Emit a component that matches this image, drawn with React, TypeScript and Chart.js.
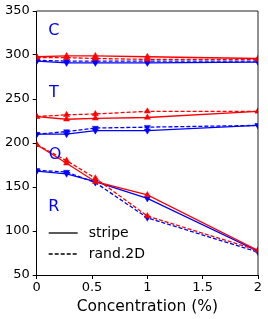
import React, { useEffect, useRef } from "react";
import { Chart, registerables } from "chart.js";
Chart.register(...registerables);

// x positions (concentration %)
const concentrations = [0, 0.27, 0.53, 1, 2];

// C group
const cRedStripe = [298, 299, 299, 298, 296];
const cRedRand = [297, 297, 296, 295, 295];
const cBlueStripe = [293, 291, 291, 291, 292];
const cBlueRand = [294, 293, 293, 293, 293];
// T group
const tRedStripe = [230, 227, 228, 229, 236];
const tRedRand = [230, 232, 233, 236, 236];
const tBlueStripe = [210, 210, 214, 214, 220];
const tBlueRand = [210, 213, 217, 218, 220];
// O / R group
const oRedStripe = [198, 177, 156, 141, 78];
const oRedRand = [198, 180, 160, 117, 78];
const rBlueStripe = [168, 165, 156, 137, 77];
const rBlueRand = [169, 167, 155, 115, 76];

const yTicks = [50, 100, 150, 200, 250, 300, 350];
const xTicks = [0, 0.5, 1, 1.5, 2];
const xTickLabels = ["0", "0.5", "1", "1.5", "2"];

const groupLabels = ["C", "T", "O", "R"];
const groupLabelX = [0.155, 0.155, 0.165, 0.155];
const groupLabelY = [327, 257, 187, 127];

const legendLabels = ["stripe", "rand.2D"];
const xTitle = "Concentration (%)";

const RED = "#ff0000";
const BLUE = "#0000ff";
const FONT = "'DejaVu Sans', sans-serif";

type S = { values: number[]; color: string; dashed: boolean };
const series: S[] = [
  { values: cRedStripe, color: RED, dashed: false },
  { values: cRedRand, color: RED, dashed: true },
  { values: cBlueStripe, color: BLUE, dashed: false },
  { values: cBlueRand, color: BLUE, dashed: true },
  { values: tRedStripe, color: RED, dashed: false },
  { values: tRedRand, color: RED, dashed: true },
  { values: tBlueStripe, color: BLUE, dashed: false },
  { values: tBlueRand, color: BLUE, dashed: true },
  { values: oRedStripe, color: RED, dashed: false },
  { values: oRedRand, color: RED, dashed: true },
  { values: rBlueStripe, color: BLUE, dashed: false },
  { values: rBlueRand, color: BLUE, dashed: true },
];

const overlayPlugin = {
  id: "overlay",
  afterDatasetsDraw(chart: any) {
    const { ctx, chartArea, scales } = chart;
    ctx.save();
    // frame top/right
    ctx.strokeStyle = "#222";
    ctx.lineWidth = 1;
    ctx.beginPath();
    ctx.moveTo(chartArea.left, chartArea.top);
    ctx.lineTo(chartArea.right, chartArea.top);
    ctx.lineTo(chartArea.right, chartArea.bottom);
    ctx.stroke();
    // group labels
    ctx.fillStyle = BLUE;
    ctx.font = `16px ${FONT}`;
    ctx.textAlign = "center";
    ctx.textBaseline = "middle";
    groupLabels.forEach((t, i) => {
      ctx.fillText(t, scales.x.getPixelForValue(groupLabelX[i]), scales.y.getPixelForValue(groupLabelY[i]));
    });
    // legend
    const lx0 = chartArea.left + 12;
    const lx1 = lx0 + 29;
    const ys = [chartArea.top + 222, chartArea.top + 243];
    ctx.strokeStyle = "#000";
    ctx.lineWidth = 1.3;
    ctx.font = `14px ${FONT}`;
    ctx.fillStyle = "#000";
    ctx.textAlign = "left";
    legendLabels.forEach((t, i) => {
      ctx.setLineDash(i === 0 ? [] : [4, 2]);
      ctx.beginPath();
      ctx.moveTo(lx0, ys[i]);
      ctx.lineTo(lx1, ys[i]);
      ctx.stroke();
      ctx.fillText(t, lx1 + 11, ys[i]);
    });
    ctx.restore();
  },
};

export default function App() {
  const ref = useRef<HTMLCanvasElement>(null);
  useEffect(() => {
    if (!ref.current) return;
    const chart = new Chart(ref.current, {
      type: "line",
      data: {
        datasets: series.map((s) => ({
          data: concentrations.map((x, i) => ({ x, y: s.values[i] })),
          borderColor: s.color,
          backgroundColor: s.color,
          borderWidth: 1.3,
          borderDash: s.dashed ? [4, 2] : [],
          pointStyle: "triangle",
          pointRotation: s.color === BLUE ? 180 : 0,
          pointRadius: 3.5,
          pointBorderWidth: 0.5,
          fill: false,
          tension: 0,
        })),
      },
      options: {
        animation: false,
        responsive: false,
        devicePixelRatio: 1,
        layout: { padding: { left: 0, top: 11, right: 10, bottom: 0 } },
        plugins: { legend: { display: false }, tooltip: { enabled: false } },
        scales: {
          x: {
            type: "linear",
            min: 0,
            max: 2,
            afterFit: (s: any) => { s.height = 44; },
            afterBuildTicks: (s: any) => { s.ticks = xTicks.map((v) => ({ value: v })); },
            ticks: {
              color: "#000",
              font: { family: FONT, size: 13 },
              padding: 1,
              maxRotation: 0,
              callback: (v: any) => { const i = xTicks.indexOf(Number(v)); return i >= 0 ? xTickLabels[i] : ""; },
            },
            grid: { display: true, drawOnChartArea: false, drawTicks: true, tickLength: 4, color: "#000" },
            border: { display: true, color: "#000", width: 1 },
            title: { display: true, text: xTitle, color: "#000", font: { family: FONT, size: 15.5 }, padding: { top: 0, bottom: 3 } },
          },
          y: {
            min: 50,
            max: 350,
            afterFit: (s: any) => { s.width = 36.7; },
            afterBuildTicks: (s: any) => { s.ticks = yTicks.map((v) => ({ value: v })); },
            ticks: { color: "#000", font: { family: FONT, size: 13 }, padding: 3 },
            grid: { display: true, drawOnChartArea: false, drawTicks: true, tickLength: 4, color: "#000" },
            border: { display: true, color: "#000", width: 1 },
          },
        },
      },
      plugins: [overlayPlugin],
    } as any);
    return () => chart.destroy();
  }, []);
  return (
    <div style={{ position: "absolute", left: 0, top: 0, width: 268, height: 319, background: "#fff" }}>
      <canvas ref={ref} width={268} height={319} style={{ display: "block" }} />
    </div>
  );
}
